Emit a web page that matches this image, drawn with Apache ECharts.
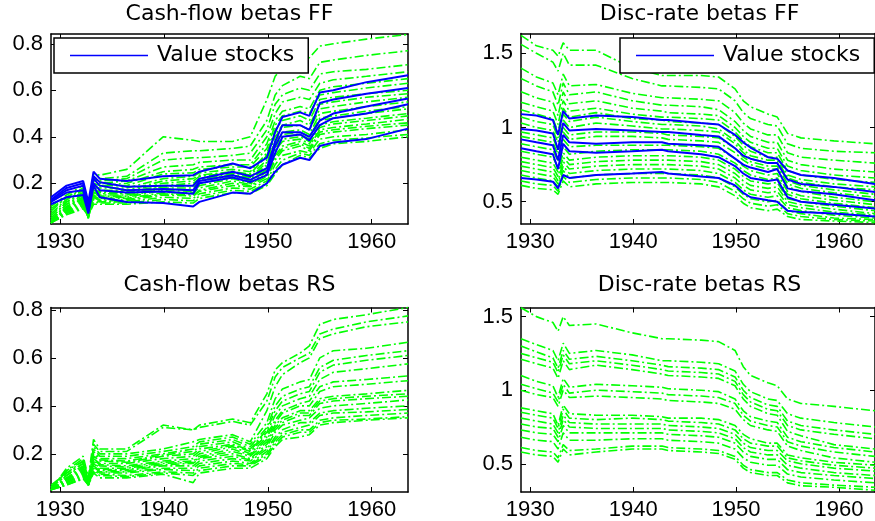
<!DOCTYPE html>
<html>
<head>
<meta charset="utf-8">
<script src="https://cdn.jsdelivr.net/npm/echarts@6/dist/echarts.min.js"></script>
<style>
  html, body { margin: 0; padding: 0; background: #fff; }
  #chart { width: 875px; height: 521px; }
</style>
</head>
<body>
<div id="chart"></div>
<script>
// Sample dates (fractional years) shared by every beta series
const years = [1929.1, 1930.6, 1932.2, 1932.7, 1933.2, 1933.8, 1936.4, 1939.9, 1942.8, 1943.4,
               1946.6, 1948.3, 1949.9, 1950.7, 1951.4, 1953.1, 1954.0, 1955.0, 1956.3, 1959.5, 1963.5];

const xTicks = [1930, 1940, 1950, 1960];
const cfTicks = [0.2, 0.4, 0.6, 0.8];
const drTicks = [0.5, 1, 1.5];

const panelTitles = ['Cash-flow betas FF', 'Disc-rate betas FF', 'Cash-flow betas RS', 'Disc-rate betas RS'];
const legendLabel = 'Value stocks';

// Cash-flow betas, Fama-French portfolios: value portfolios
const cfFFValue = [
  [0.14, 0.19, 0.21, 0.12, 0.25, 0.22, 0.21, 0.23, 0.235, 0.25, 0.285, 0.265, 0.31, 0.42, 0.485, 0.505, 0.49, 0.59, 0.60, 0.635, 0.665],
  [0.13, 0.18, 0.20, 0.09, 0.23, 0.205, 0.185, 0.19, 0.19, 0.22, 0.25, 0.23, 0.265, 0.38, 0.45, 0.45, 0.43, 0.545, 0.56, 0.585, 0.61],
  [0.125, 0.17, 0.19, 0.10, 0.22, 0.19, 0.17, 0.175, 0.17, 0.21, 0.235, 0.215, 0.25, 0.36, 0.42, 0.42, 0.40, 0.47, 0.50, 0.53, 0.565],
  [0.12, 0.16, 0.17, 0.08, 0.20, 0.17, 0.16, 0.165, 0.155, 0.20, 0.225, 0.205, 0.235, 0.33, 0.40, 0.41, 0.385, 0.45, 0.48, 0.50, 0.54],
  [0.11, 0.14, 0.15, 0.07, 0.19, 0.14, 0.12, 0.115, 0.10, 0.12, 0.16, 0.155, 0.20, 0.25, 0.28, 0.31, 0.30, 0.36, 0.375, 0.39, 0.435]
];
// Cash-flow betas, Fama-French portfolios: remaining portfolios
const cfFFOther = [
  [0.10, 0.15, 0.19, 0.10, 0.24, 0.235, 0.26, 0.40, 0.385, 0.38, 0.38, 0.40, 0.56, 0.66, 0.70, 0.74, 0.74, 0.79, 0.80, 0.82, 0.84],
  [0.09, 0.14, 0.18, 0.09, 0.22, 0.22, 0.23, 0.33, 0.34, 0.34, 0.35, 0.36, 0.47, 0.58, 0.62, 0.66, 0.65, 0.72, 0.73, 0.75, 0.77],
  [0.08, 0.14, 0.17, 0.08, 0.21, 0.21, 0.22, 0.30, 0.31, 0.31, 0.32, 0.33, 0.43, 0.54, 0.58, 0.61, 0.60, 0.67, 0.68, 0.69, 0.71],
  [0.07, 0.13, 0.17, 0.09, 0.22, 0.20, 0.21, 0.27, 0.28, 0.29, 0.30, 0.30, 0.40, 0.50, 0.55, 0.57, 0.56, 0.63, 0.645, 0.66, 0.68],
  [0.06, 0.13, 0.16, 0.08, 0.20, 0.19, 0.20, 0.25, 0.26, 0.27, 0.28, 0.28, 0.37, 0.47, 0.51, 0.53, 0.52, 0.60, 0.615, 0.63, 0.65],
  [0.05, 0.12, 0.16, 0.07, 0.19, 0.19, 0.19, 0.24, 0.245, 0.26, 0.27, 0.27, 0.35, 0.45, 0.49, 0.51, 0.50, 0.58, 0.59, 0.61, 0.63],
  [0.05, 0.12, 0.15, 0.07, 0.18, 0.18, 0.18, 0.22, 0.23, 0.245, 0.26, 0.25, 0.33, 0.43, 0.47, 0.49, 0.47, 0.56, 0.57, 0.585, 0.60],
  [0.04, 0.11, 0.15, 0.06, 0.18, 0.17, 0.17, 0.21, 0.22, 0.235, 0.25, 0.24, 0.32, 0.41, 0.45, 0.47, 0.45, 0.54, 0.55, 0.57, 0.585],
  [0.04, 0.11, 0.14, 0.06, 0.17, 0.165, 0.165, 0.20, 0.21, 0.23, 0.245, 0.235, 0.30, 0.40, 0.44, 0.45, 0.43, 0.52, 0.53, 0.55, 0.57],
  [0.035, 0.10, 0.14, 0.06, 0.17, 0.16, 0.16, 0.19, 0.20, 0.22, 0.24, 0.225, 0.29, 0.38, 0.42, 0.43, 0.41, 0.50, 0.51, 0.53, 0.55],
  [0.03, 0.10, 0.135, 0.05, 0.16, 0.155, 0.155, 0.185, 0.19, 0.215, 0.235, 0.22, 0.28, 0.37, 0.41, 0.42, 0.40, 0.48, 0.49, 0.51, 0.53],
  [0.03, 0.095, 0.13, 0.05, 0.16, 0.15, 0.15, 0.18, 0.18, 0.21, 0.23, 0.215, 0.27, 0.36, 0.40, 0.41, 0.39, 0.47, 0.48, 0.50, 0.52],
  [0.03, 0.09, 0.125, 0.05, 0.155, 0.145, 0.145, 0.175, 0.17, 0.20, 0.225, 0.21, 0.26, 0.35, 0.39, 0.40, 0.38, 0.45, 0.465, 0.48, 0.50],
  [0.03, 0.09, 0.12, 0.05, 0.15, 0.14, 0.14, 0.17, 0.165, 0.19, 0.22, 0.20, 0.25, 0.34, 0.38, 0.39, 0.37, 0.44, 0.455, 0.47, 0.49],
  [0.03, 0.085, 0.115, 0.06, 0.145, 0.135, 0.135, 0.16, 0.16, 0.18, 0.21, 0.195, 0.24, 0.32, 0.36, 0.38, 0.36, 0.43, 0.44, 0.455, 0.475],
  [0.03, 0.08, 0.11, 0.06, 0.14, 0.13, 0.13, 0.155, 0.15, 0.17, 0.20, 0.19, 0.23, 0.31, 0.35, 0.37, 0.35, 0.42, 0.43, 0.445, 0.46],
  [0.03, 0.08, 0.105, 0.06, 0.14, 0.125, 0.125, 0.15, 0.145, 0.165, 0.19, 0.185, 0.22, 0.30, 0.34, 0.36, 0.34, 0.41, 0.42, 0.435, 0.45],
  [0.03, 0.075, 0.10, 0.06, 0.13, 0.12, 0.12, 0.14, 0.135, 0.155, 0.18, 0.175, 0.21, 0.28, 0.32, 0.34, 0.33, 0.39, 0.40, 0.41, 0.43],
  [0.03, 0.07, 0.095, 0.06, 0.12, 0.115, 0.115, 0.13, 0.125, 0.145, 0.17, 0.165, 0.20, 0.26, 0.30, 0.33, 0.32, 0.37, 0.385, 0.395, 0.41],
  [0.03, 0.065, 0.09, 0.06, 0.11, 0.11, 0.11, 0.12, 0.115, 0.135, 0.16, 0.155, 0.19, 0.24, 0.28, 0.32, 0.31, 0.35, 0.37, 0.38, 0.40]
];

// Discount-rate betas, Fama-French portfolios: value portfolios
const drFFValue = [
  [1.09, 1.08, 1.05, 0.95, 1.11, 1.06, 1.08, 1.07, 1.05, 1.05, 1.03, 1.02, 0.95, 0.90, 0.865, 0.80, 0.79, 0.71, 0.68, 0.66, 0.62],
  [0.99, 0.98, 0.96, 0.85, 1.03, 0.98, 0.99, 0.98, 0.97, 0.97, 0.95, 0.94, 0.86, 0.81, 0.79, 0.76, 0.76, 0.65, 0.62, 0.60, 0.565],
  [0.92, 0.90, 0.88, 0.78, 0.95, 0.90, 0.89, 0.90, 0.90, 0.89, 0.88, 0.87, 0.79, 0.75, 0.73, 0.70, 0.72, 0.59, 0.57, 0.55, 0.51],
  [0.86, 0.84, 0.82, 0.72, 0.89, 0.84, 0.83, 0.84, 0.85, 0.84, 0.82, 0.80, 0.74, 0.69, 0.66, 0.64, 0.65, 0.53, 0.50, 0.48, 0.455],
  [0.66, 0.65, 0.635, 0.59, 0.68, 0.66, 0.68, 0.69, 0.70, 0.69, 0.67, 0.66, 0.61, 0.56, 0.53, 0.51, 0.50, 0.44, 0.43, 0.42, 0.40]
];
// Discount-rate betas, Fama-French portfolios: remaining portfolios
const drFFOther = [
  [1.62, 1.55, 1.52, 1.48, 1.57, 1.52, 1.52, 1.40, 1.35, 1.35, 1.35, 1.34, 1.26, 1.18, 1.14, 1.09, 1.07, 0.96, 0.93, 0.91, 0.89],
  [1.56, 1.50, 1.44, 1.38, 1.50, 1.42, 1.42, 1.33, 1.28, 1.28, 1.27, 1.26, 1.18, 1.10, 1.06, 1.02, 1.01, 0.89, 0.86, 0.84, 0.83],
  [1.40, 1.34, 1.30, 1.22, 1.36, 1.28, 1.29, 1.23, 1.20, 1.20, 1.19, 1.18, 1.10, 1.03, 0.99, 0.95, 0.95, 0.83, 0.80, 0.78, 0.76],
  [1.33, 1.28, 1.24, 1.15, 1.30, 1.22, 1.24, 1.18, 1.15, 1.15, 1.14, 1.12, 1.04, 0.98, 0.94, 0.90, 0.90, 0.78, 0.75, 0.72, 0.70],
  [1.24, 1.20, 1.17, 1.08, 1.24, 1.16, 1.18, 1.13, 1.11, 1.10, 1.09, 1.08, 1.00, 0.94, 0.90, 0.86, 0.86, 0.74, 0.71, 0.68, 0.66],
  [1.17, 1.14, 1.11, 1.02, 1.18, 1.11, 1.13, 1.09, 1.07, 1.07, 1.06, 1.05, 0.97, 0.91, 0.87, 0.83, 0.83, 0.71, 0.68, 0.65, 0.63],
  [1.12, 1.09, 1.06, 0.97, 1.13, 1.07, 1.10, 1.06, 1.05, 1.04, 1.03, 1.02, 0.94, 0.88, 0.84, 0.80, 0.80, 0.68, 0.65, 0.62, 0.60],
  [1.07, 1.04, 1.02, 0.93, 1.09, 1.04, 1.07, 1.04, 1.02, 1.02, 1.01, 0.99, 0.91, 0.85, 0.81, 0.78, 0.78, 0.66, 0.63, 0.60, 0.58],
  [1.03, 1.00, 0.98, 0.90, 1.05, 1.00, 1.03, 1.01, 0.99, 0.99, 0.98, 0.97, 0.89, 0.83, 0.79, 0.76, 0.76, 0.64, 0.61, 0.58, 0.55],
  [0.97, 0.95, 0.93, 0.85, 1.00, 0.95, 0.97, 0.97, 0.96, 0.95, 0.94, 0.93, 0.86, 0.80, 0.77, 0.74, 0.74, 0.62, 0.59, 0.56, 0.53],
  [0.94, 0.92, 0.90, 0.82, 0.97, 0.92, 0.94, 0.94, 0.93, 0.92, 0.91, 0.90, 0.83, 0.78, 0.75, 0.72, 0.72, 0.60, 0.57, 0.53, 0.50],
  [0.89, 0.87, 0.85, 0.77, 0.92, 0.87, 0.88, 0.88, 0.88, 0.88, 0.87, 0.86, 0.79, 0.74, 0.71, 0.68, 0.69, 0.57, 0.54, 0.51, 0.48],
  [0.84, 0.82, 0.80, 0.73, 0.87, 0.82, 0.84, 0.85, 0.85, 0.85, 0.84, 0.82, 0.76, 0.71, 0.68, 0.65, 0.66, 0.55, 0.52, 0.49, 0.46],
  [0.80, 0.78, 0.76, 0.70, 0.83, 0.78, 0.80, 0.81, 0.81, 0.81, 0.80, 0.78, 0.72, 0.67, 0.64, 0.62, 0.63, 0.52, 0.50, 0.47, 0.44],
  [0.77, 0.75, 0.73, 0.67, 0.80, 0.75, 0.77, 0.78, 0.78, 0.78, 0.77, 0.75, 0.69, 0.64, 0.61, 0.59, 0.60, 0.50, 0.48, 0.45, 0.42],
  [0.74, 0.72, 0.70, 0.64, 0.77, 0.72, 0.74, 0.75, 0.75, 0.75, 0.74, 0.72, 0.66, 0.61, 0.58, 0.56, 0.57, 0.48, 0.46, 0.43, 0.41],
  [0.71, 0.69, 0.67, 0.62, 0.74, 0.69, 0.71, 0.72, 0.72, 0.72, 0.71, 0.69, 0.63, 0.58, 0.55, 0.53, 0.54, 0.46, 0.44, 0.41, 0.39],
  [0.68, 0.66, 0.64, 0.60, 0.71, 0.66, 0.68, 0.69, 0.69, 0.69, 0.68, 0.66, 0.60, 0.55, 0.52, 0.50, 0.51, 0.44, 0.42, 0.39, 0.38],
  [0.64, 0.62, 0.61, 0.57, 0.67, 0.63, 0.65, 0.66, 0.66, 0.66, 0.65, 0.63, 0.57, 0.52, 0.49, 0.47, 0.48, 0.42, 0.40, 0.38, 0.37],
  [0.61, 0.59, 0.58, 0.55, 0.64, 0.60, 0.62, 0.63, 0.63, 0.63, 0.62, 0.60, 0.54, 0.49, 0.46, 0.44, 0.45, 0.40, 0.38, 0.37, 0.36]
];

// Cash-flow betas, risk-sorted portfolios
const cfRS = [
  [0.05, 0.14, 0.19, 0.10, 0.26, 0.22, 0.22, 0.32, 0.30, 0.32, 0.345, 0.33, 0.45, 0.55, 0.58, 0.62, 0.65, 0.74, 0.76, 0.78, 0.81],
  [0.05, 0.13, 0.18, 0.09, 0.24, 0.21, 0.21, 0.31, 0.30, 0.31, 0.335, 0.32, 0.42, 0.52, 0.56, 0.60, 0.62, 0.70, 0.72, 0.75, 0.775],
  [0.06, 0.13, 0.17, 0.09, 0.23, 0.20, 0.20, 0.22, 0.25, 0.26, 0.28, 0.25, 0.38, 0.48, 0.53, 0.58, 0.60, 0.68, 0.70, 0.73, 0.75],
  [0.07, 0.12, 0.17, 0.08, 0.22, 0.19, 0.19, 0.21, 0.23, 0.25, 0.27, 0.24, 0.33, 0.43, 0.47, 0.50, 0.51, 0.60, 0.63, 0.64, 0.665],
  [0.06, 0.12, 0.16, 0.08, 0.21, 0.18, 0.18, 0.20, 0.22, 0.24, 0.26, 0.23, 0.31, 0.40, 0.44, 0.47, 0.48, 0.56, 0.59, 0.61, 0.63],
  [0.06, 0.11, 0.16, 0.07, 0.20, 0.175, 0.17, 0.195, 0.21, 0.23, 0.25, 0.22, 0.30, 0.38, 0.42, 0.45, 0.46, 0.54, 0.57, 0.59, 0.61],
  [0.05, 0.11, 0.15, 0.07, 0.19, 0.17, 0.165, 0.19, 0.20, 0.22, 0.24, 0.215, 0.29, 0.36, 0.40, 0.43, 0.44, 0.51, 0.54, 0.555, 0.575],
  [0.05, 0.10, 0.145, 0.07, 0.18, 0.16, 0.16, 0.18, 0.19, 0.21, 0.235, 0.21, 0.28, 0.34, 0.38, 0.41, 0.42, 0.48, 0.50, 0.51, 0.525],
  [0.05, 0.10, 0.14, 0.07, 0.175, 0.155, 0.15, 0.17, 0.18, 0.20, 0.23, 0.20, 0.27, 0.33, 0.37, 0.40, 0.40, 0.46, 0.48, 0.49, 0.505],
  [0.05, 0.095, 0.135, 0.07, 0.17, 0.15, 0.145, 0.165, 0.17, 0.19, 0.22, 0.195, 0.26, 0.32, 0.35, 0.38, 0.38, 0.43, 0.44, 0.45, 0.465],
  [0.05, 0.09, 0.13, 0.07, 0.165, 0.14, 0.14, 0.16, 0.165, 0.185, 0.21, 0.19, 0.25, 0.31, 0.34, 0.37, 0.37, 0.42, 0.43, 0.44, 0.45],
  [0.05, 0.09, 0.125, 0.07, 0.16, 0.135, 0.135, 0.155, 0.16, 0.18, 0.20, 0.18, 0.24, 0.30, 0.33, 0.36, 0.36, 0.41, 0.42, 0.43, 0.44],
  [0.05, 0.085, 0.12, 0.07, 0.15, 0.13, 0.13, 0.15, 0.15, 0.17, 0.19, 0.175, 0.23, 0.29, 0.32, 0.34, 0.35, 0.39, 0.40, 0.41, 0.425],
  [0.05, 0.08, 0.115, 0.07, 0.145, 0.125, 0.125, 0.14, 0.14, 0.16, 0.18, 0.17, 0.22, 0.27, 0.30, 0.33, 0.33, 0.37, 0.38, 0.39, 0.40],
  [0.05, 0.08, 0.11, 0.07, 0.14, 0.12, 0.12, 0.135, 0.13, 0.15, 0.17, 0.16, 0.21, 0.26, 0.29, 0.31, 0.32, 0.36, 0.37, 0.375, 0.385],
  [0.05, 0.075, 0.105, 0.07, 0.13, 0.115, 0.11, 0.125, 0.12, 0.14, 0.16, 0.155, 0.20, 0.25, 0.28, 0.30, 0.30, 0.34, 0.35, 0.36, 0.37],
  [0.05, 0.07, 0.10, 0.07, 0.125, 0.11, 0.105, 0.12, 0.11, 0.13, 0.15, 0.15, 0.19, 0.24, 0.27, 0.29, 0.29, 0.33, 0.34, 0.345, 0.355],
  [0.05, 0.07, 0.095, 0.07, 0.12, 0.10, 0.10, 0.115, 0.08, 0.12, 0.14, 0.14, 0.18, 0.23, 0.26, 0.27, 0.28, 0.32, 0.33, 0.34, 0.35]
];

// Discount-rate betas, risk-sorted portfolios
const drRS = [
  [1.56, 1.50, 1.46, 1.40, 1.50, 1.44, 1.45, 1.39, 1.35, 1.35, 1.34, 1.33, 1.27, 1.16, 1.10, 1.05, 1.03, 0.94, 0.91, 0.89, 0.86],
  [1.35, 1.31, 1.27, 1.20, 1.32, 1.25, 1.27, 1.24, 1.20, 1.20, 1.19, 1.18, 1.13, 1.04, 0.99, 0.94, 0.93, 0.84, 0.81, 0.78, 0.75],
  [1.30, 1.26, 1.22, 1.15, 1.27, 1.21, 1.23, 1.20, 1.17, 1.16, 1.15, 1.14, 1.09, 1.00, 0.95, 0.90, 0.89, 0.79, 0.76, 0.73, 0.70],
  [1.25, 1.22, 1.19, 1.12, 1.24, 1.18, 1.20, 1.17, 1.14, 1.13, 1.12, 1.11, 1.06, 0.97, 0.92, 0.87, 0.86, 0.76, 0.73, 0.70, 0.67],
  [1.21, 1.18, 1.15, 1.08, 1.20, 1.14, 1.17, 1.14, 1.11, 1.10, 1.09, 1.08, 1.03, 0.94, 0.89, 0.84, 0.83, 0.72, 0.69, 0.63, 0.60],
  [1.10, 1.06, 1.03, 0.95, 1.08, 1.02, 1.04, 1.03, 1.02, 1.01, 1.00, 0.99, 0.94, 0.86, 0.82, 0.79, 0.78, 0.68, 0.65, 0.61, 0.58],
  [1.04, 1.01, 0.98, 0.92, 1.04, 0.98, 1.00, 0.99, 0.98, 0.97, 0.96, 0.95, 0.91, 0.83, 0.79, 0.76, 0.75, 0.65, 0.62, 0.58, 0.55],
  [1.00, 0.97, 0.95, 0.89, 1.00, 0.95, 0.96, 0.95, 0.94, 0.93, 0.92, 0.91, 0.87, 0.80, 0.76, 0.73, 0.72, 0.62, 0.59, 0.54, 0.51],
  [0.88, 0.86, 0.84, 0.76, 0.90, 0.84, 0.83, 0.83, 0.82, 0.81, 0.81, 0.80, 0.76, 0.70, 0.67, 0.64, 0.64, 0.56, 0.54, 0.51, 0.49],
  [0.85, 0.83, 0.81, 0.74, 0.87, 0.81, 0.80, 0.81, 0.80, 0.79, 0.78, 0.77, 0.73, 0.67, 0.64, 0.62, 0.62, 0.54, 0.52, 0.49, 0.47],
  [0.81, 0.79, 0.77, 0.71, 0.83, 0.78, 0.77, 0.77, 0.77, 0.76, 0.75, 0.74, 0.70, 0.64, 0.61, 0.59, 0.59, 0.52, 0.50, 0.47, 0.45],
  [0.77, 0.75, 0.74, 0.68, 0.80, 0.75, 0.74, 0.74, 0.74, 0.73, 0.72, 0.71, 0.67, 0.61, 0.58, 0.56, 0.56, 0.49, 0.47, 0.44, 0.42],
  [0.73, 0.71, 0.70, 0.65, 0.76, 0.71, 0.71, 0.71, 0.71, 0.70, 0.69, 0.68, 0.64, 0.58, 0.55, 0.53, 0.53, 0.46, 0.44, 0.42, 0.40],
  [0.68, 0.66, 0.65, 0.60, 0.71, 0.66, 0.66, 0.67, 0.67, 0.66, 0.65, 0.64, 0.60, 0.54, 0.51, 0.49, 0.49, 0.43, 0.41, 0.39, 0.37],
  [0.61, 0.59, 0.58, 0.54, 0.63, 0.59, 0.60, 0.62, 0.62, 0.61, 0.60, 0.59, 0.55, 0.49, 0.46, 0.44, 0.44, 0.39, 0.37, 0.355, 0.34],
  [0.58, 0.56, 0.55, 0.51, 0.60, 0.56, 0.58, 0.60, 0.60, 0.59, 0.58, 0.57, 0.53, 0.47, 0.44, 0.42, 0.42, 0.37, 0.35, 0.34, 0.32]
];

const GREEN = '#00ff00';
const BLUE = '#0000ff';
const TICK_FONT = 'Liberation Sans';
const TEXT_FONT = 'DejaVu Sans';

// Plot boxes (pixels) and y ranges for the four panels
const panels = [
  { left: 51,  top: 34,    height: 190, ymin: 0.025, ymax: 0.842, ticks: cfTicks, titleTop: 3 },
  { left: 521, top: 33.5,  height: 190.5, ymin: 0.35, ymax: 1.633, ticks: drTicks, titleTop: 3 },
  { left: 51,  top: 307.5, height: 186, ymin: 0.041, ymax: 0.81, ticks: cfTicks, titleTop: 274 },
  { left: 521, top: 307.5, height: 186, ymin: 0.308, ymax: 1.562, ticks: drTicks, titleTop: 274 }
];
const PLOT_W = 357;

const grids = panels.map(p => ({ left: p.left, top: p.top, width: PLOT_W, height: p.height, containLabel: false }));

const axisLineStyle = { color: '#000', width: 1.5 };
const tickStyle = { color: '#000', width: 1 };

// Plain numbers on the ticks: years without a thousands separator, betas as written
function plainLabel(v) {
  return String(Math.round(v * 100) / 100);
}

const xAxes = [];
const yAxes = [];
panels.forEach((p, i) => {
  ['bottom', 'top'].forEach(pos => {
    xAxes.push({
      type: 'value', gridIndex: i, position: pos, min: 1929.1, max: 1963.5,
      axisLine: { show: true, onZero: false, lineStyle: axisLineStyle },
      axisTick: { show: true, inside: true, length: 5, customValues: xTicks, lineStyle: tickStyle },
      axisLabel: {
        show: pos === 'bottom', customValues: xTicks, margin: 7, formatter: plainLabel,
        color: '#000', fontFamily: TICK_FONT, fontSize: 22
      },
      splitLine: { show: false }
    });
  });
  ['left', 'right'].forEach(pos => {
    yAxes.push({
      type: 'value', gridIndex: i, position: pos, min: p.ymin, max: p.ymax,
      axisLine: { show: true, onZero: false, lineStyle: axisLineStyle },
      axisTick: { show: true, inside: true, length: 5, customValues: p.ticks, lineStyle: tickStyle },
      axisLabel: {
        show: pos === 'left', customValues: p.ticks, margin: 8, formatter: plainLabel,
        color: '#000', fontFamily: TICK_FONT, fontSize: 22
      },
      splitLine: { show: false }
    });
  });
});

function toPoints(vals) {
  return years.map((y, k) => [y, vals[k]]);
}

function lineSeries(vals, panelIndex, color, solid, name) {
  return {
    type: 'line',
    name: name,
    xAxisIndex: panelIndex * 2,
    yAxisIndex: panelIndex * 2,
    data: toPoints(vals),
    symbol: 'none',
    showSymbol: false,
    silent: true,
    z: solid ? 3 : 2,
    lineStyle: solid
      ? { color: color, width: 2 }
      : { color: color, width: 1.6, type: [9, 3, 2, 3] },
    itemStyle: { color: color }
  };
}

const series = [];
cfFFOther.forEach(v => series.push(lineSeries(v, 0, GREEN, false, 'other0')));
cfFFValue.forEach(v => series.push(lineSeries(v, 0, BLUE, true, legendLabel)));
drFFOther.forEach(v => series.push(lineSeries(v, 1, GREEN, false, 'other1')));
drFFValue.forEach(v => series.push(lineSeries(v, 1, BLUE, true, legendLabel)));
cfRS.forEach(v => series.push(lineSeries(v, 2, GREEN, false, 'rs2')));
drRS.forEach(v => series.push(lineSeries(v, 3, GREEN, false, 'rs3')));

const titles = panels.map((p, i) => ({
  text: panelTitles[i],
  left: p.left + PLOT_W / 2,
  top: p.titleTop,
  textAlign: 'center',
  padding: 0,
  textStyle: { fontFamily: TEXT_FONT, fontSize: 22, fontWeight: 'normal', color: '#000' }
}));

function legendAt(left) {
  return {
    data: [{ name: legendLabel, icon: 'rect' }],
    left: left, top: 38,
    orient: 'horizontal',
    backgroundColor: '#fff',
    borderColor: '#000',
    borderWidth: 1.5,
    borderRadius: 0,
    padding: [6, 14, 6, 16],
    itemWidth: 78,
    itemHeight: 1.5,
    selectedMode: false,
    itemStyle: { color: BLUE },
    textStyle: { fontFamily: TEXT_FONT, fontSize: 22, color: '#000', lineHeight: 23, padding: [0, 0, 0, 4] }
  };
}

const chart = echarts.init(document.getElementById('chart'), null, { renderer: 'canvas' });
chart.setOption({
  backgroundColor: '#fff',
  animation: false,
  title: titles,
  legend: [legendAt(54), legendAt(620)],
  grid: grids,
  xAxis: xAxes,
  yAxis: yAxes,
  series: series
});
</script>
</body>
</html>
